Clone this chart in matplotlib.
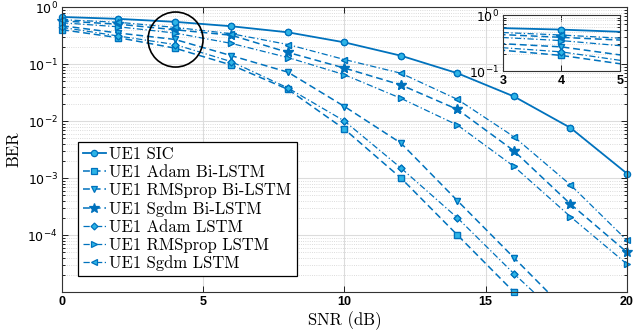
import numpy as np
import matplotlib
matplotlib.use('Agg')
import matplotlib.pyplot as plt
from matplotlib.patches import Ellipse
from matplotlib.ticker import FixedLocator, LogLocator, NullFormatter

# data
snr = np.array([0, 2, 4, 6, 8, 10, 12, 14, 16, 18, 20])
ber_sic = [0.67, 0.62, 0.55, 0.46, 0.36, 0.24, 0.14, 0.069, 0.027, 0.0076, 0.0012]
ber_adam_bi = [0.40, 0.29, 0.19, 0.096, 0.036, 0.0072, 0.001, 1e-4, 1e-5, 1e-6]
ber_rms_bi = [0.47, 0.35, 0.27, 0.14, 0.072, 0.018, 0.0041, 4e-4, 4e-5, 4e-6]
ber_sgdm_bi = [0.57, 0.50, 0.40, 0.32, 0.16, 0.085, 0.043, 0.016, 0.003, 3.5e-4, 5e-5]
ber_adam_lstm = [0.44, 0.31, 0.22, 0.11, 0.038, 0.01, 0.0015, 2e-4, 2.1e-5, 2.5e-6]
ber_rms_lstm = [0.53, 0.45, 0.35, 0.23, 0.13, 0.065, 0.025, 0.0085, 0.0016, 2.1e-4, 3.1e-5]
ber_sgdm_lstm = [0.60, 0.54, 0.44, 0.34, 0.22, 0.12, 0.069, 0.024, 0.0053, 7.6e-4, 8.1e-5]

labels = ['UE1 SIC', 'UE1 Adam Bi-LSTM', 'UE1 RMSprop Bi-LSTM', 'UE1 Sgdm Bi-LSTM',
          'UE1 Adam LSTM', 'UE1 RMSprop LSTM', 'UE1 Sgdm LSTM']
series = [ber_sic, ber_adam_bi, ber_rms_bi, ber_sgdm_bi, ber_adam_lstm, ber_rms_lstm, ber_sgdm_lstm]

blue = '#0072BD'
cyan = '#2DB4E6'
dash = (0, (4.5, 2.5))
dashdot = (0, (5, 2, 1, 2))
# (marker, linestyle, size, facecolor, linewidth)
styles = [('o', '-', 4.5, cyan, 1.3),
          ('s', dash, 4.5, cyan, 1.1),
          ('v', dash, 4.5, cyan, 1.1),
          ('*', dash, 7, blue, 1.1),
          ('D', dashdot, 3.5, cyan, 0.9),
          ('>', dashdot, 4.5, cyan, 0.9),
          ('<', dashdot, 4.5, cyan, 0.9)]

plt.rcParams['mathtext.fontset'] = 'custom'
plt.rcParams['mathtext.bf'] = 'Liberation Sans:bold'
plt.rcParams['mathtext.rm'] = 'Liberation Sans:bold'
plt.rcParams['mathtext.default'] = 'bf'

fig = plt.figure(figsize=(6.35, 3.35), dpi=100)
ax = fig.add_axes([0.0976, 0.128, 0.8898, 0.851])


def draw(a, xlim, ylim, legend_handles=None):
    for y, lab, (mk, ls, ms, fc, lw) in zip(series, labels, styles):
        x = snr[:len(y)]
        y = np.array(y)
        ln, = a.plot(x, y, color=blue, ls=ls, lw=lw, marker=mk, ms=ms,
                     mfc=fc, mec=blue, mew=0.9, label=lab)
        # markers on the frame are drawn whole, like matlab
        m = (y >= ylim[0]) & (y <= ylim[1]) & (x >= xlim[0]) & (x <= xlim[1])
        a.plot(x[m], y[m], ls='none', marker=mk, ms=ms, mfc=fc, mec=blue,
               mew=0.9, clip_on=False)
        if legend_handles is not None:
            legend_handles.append(ln)
    a.set_xlim(*xlim)
    a.set_ylim(*ylim)


def style_axes(a, size, yticks):
    a.set_yscale('log')
    a.yaxis.set_major_locator(FixedLocator(yticks))
    a.yaxis.set_minor_locator(LogLocator(base=10, subs=np.arange(2, 10)))
    a.yaxis.set_minor_formatter(NullFormatter())
    a.tick_params(which='both', direction='in', top=True, right=True,
                  labelsize=size, width=0.6, pad=3)
    a.tick_params(which='major', length=4)
    a.tick_params(which='minor', length=2)
    for lab in a.get_xticklabels():
        lab.set_fontfamily('Liberation Sans')
        lab.set_fontweight('bold')
    a.grid(True, which='major', color='#dcdcdc', lw=0.8)
    a.grid(True, which='minor', axis='y', color='#d0d0d0', lw=0.6, ls=':')
    a.set_axisbelow(True)
    for s in a.spines.values():
        s.set_color('#333333')
        s.set_linewidth(0.8)


handles = []
draw(ax, (0, 20), (1e-5, 1), handles)
ax.set_xticks([0, 5, 10, 15, 20])
style_axes(ax, 9, [1e-4, 1e-3, 1e-2, 1e-1, 1])

ax.set_xlabel('SNR (dB)', family='cmr10', fontsize=12, labelpad=2)
ax.set_ylabel('BER', family='cmr10', fontsize=12, labelpad=4)

ax.legend(handles=handles, loc='lower left', bbox_to_anchor=(0.028, 0.056),
          fancybox=False, edgecolor='k', framealpha=1, borderaxespad=0,
          handlelength=1.4, handletextpad=0.2, labelspacing=0.16, borderpad=0.3,
          prop=dict(family='cmr10', size=12))
ax.get_legend().get_frame().set_linewidth(0.9)

# zoom circle
ax.add_patch(Ellipse((0.201, 0.886), 0.0973, 0.193, transform=ax.transAxes,
                     fill=False, ec='k', lw=1.2, zorder=5))

# inset
ins = fig.add_axes([0.792, 0.788, 0.184, 0.167])
ins.set_facecolor('white')
draw(ins, (3, 5), (0.1, 1))
ins.set_xticks([3, 4, 5])
style_axes(ins, 9, [0.1, 1])

fig.savefig('out.png', dpi=100)
